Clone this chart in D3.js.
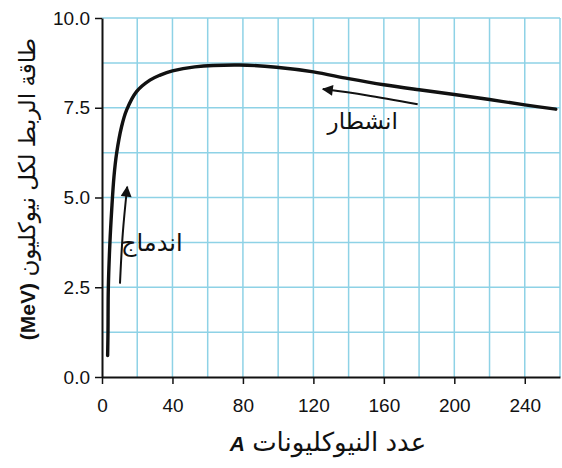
<!DOCTYPE html>
<html><head><meta charset="utf-8">
<script src="https://cdn.jsdelivr.net/npm/d3@7/dist/d3.min.js"></script>
<style>
html,body{margin:0;padding:0;background:#fff;}
svg{display:block;}
</style></head>
<body>
<svg id="chart" width="562" height="468"></svg>
<script>
// Data
const massNumber = [3.2, 3.4, 3.6, 4.5, 5.5, 6.8, 8.3, 11.1, 14, 19.6, 27.2, 33, 40, 52.7, 78, 99, 120, 140, 160, 180, 200, 220, 240, 257.6];
const bindingEnergy = [0.6, 1.25, 2.5, 3.75, 4.65, 5.58, 6.23, 6.97, 7.44, 7.95, 8.27, 8.41, 8.53, 8.64, 8.69, 8.63, 8.5, 8.31, 8.14, 8.0, 7.87, 7.73, 7.58, 7.46];
const xTicks = [0, 40, 80, 120, 160, 200, 240];
const yTicks = [0, 2.5, 5.0, 7.5, 10.0];
const xGrid = [20, 40, 60, 80, 100, 120, 140, 160, 180, 200, 220, 240, 260];
const yGrid = [1.25, 2.5, 3.75, 5, 6.25, 7.5, 8.75, 10];
const fusionArrow = [[10.2, 2.6], [11.8, 4.0], [14.3, 5.3]];
const fissionArrow = [[179.2, 7.6], [150, 7.85], [125.4, 8.02]];
const labels = {
  yArabic: "طاقة الربط لكل نيوكليون",
  yUnit: "(MeV)",
  xArabic: "عدد النيوكليونات",
  xSymbol: "A",
  fusion: "اندماج",
  fission: "انشطار"
};

const svg = d3.select("#chart");
const x = d3.scaleLinear().domain([0, 260]).range([102, 560]);
const y = d3.scaleLinear().domain([0, 10]).range([377, 18]);
const gridColor = "#8ed2e6";
const arabicFont = "'Liberation Sans','DejaVu Sans',sans-serif";

// grid
svg.append("g").selectAll("line.v").data(xGrid).join("line")
  .attr("x1", d => x(d)).attr("x2", d => x(d))
  .attr("y1", y(0)).attr("y2", y(10))
  .attr("stroke", gridColor).attr("stroke-width", 1.5);
svg.append("g").selectAll("line.h").data(yGrid).join("line")
  .attr("x1", x(0)).attr("x2", x(260))
  .attr("y1", d => y(d)).attr("y2", d => y(d))
  .attr("stroke", gridColor).attr("stroke-width", 1.5);

// axes
const xAxis = svg.append("g").attr("transform", `translate(0,${y(0)})`)
  .call(d3.axisBottom(x).tickValues(xTicks).tickFormat(d3.format("d")).tickSize(7).tickPadding(15).tickSizeOuter(0));
const yAxis = svg.append("g").attr("transform", `translate(${x(0)},0)`)
  .call(d3.axisLeft(y).tickValues(yTicks).tickFormat(d3.format(".1f")).tickSize(7).tickPadding(5).tickSizeOuter(0));
[xAxis, yAxis].forEach(g => {
  g.select(".domain").attr("stroke", "#111").attr("stroke-width", 2);
  g.selectAll(".tick line").attr("stroke", "#111").attr("stroke-width", 1.5);
  g.selectAll(".tick text").attr("fill", "#111")
    .style("font-family", "'Liberation Sans',Arial,sans-serif").style("font-size", "19px");
});

// curve
const line = d3.line().x(d => x(d[0])).y(d => y(d[1])).curve(d3.curveCatmullRom.alpha(0.5));
svg.append("path").datum(massNumber.map((a, i) => [a, bindingEnergy[i]]))
  .attr("d", line).attr("fill", "none").attr("stroke", "#111").attr("stroke-width", 3.4)
  .attr("stroke-linecap", "round");

// arrows
const defs = svg.append("defs");
defs.append("marker").attr("id", "ah").attr("viewBox", "0 0 10 10")
  .attr("refX", 9).attr("refY", 5).attr("markerWidth", 7).attr("markerHeight", 5.5)
  .attr("markerUnits", "strokeWidth").attr("orient", "auto")
  .append("path").attr("d", "M0,0 L10,5 L0,10 Z").attr("fill", "#111");
const arrowLine = d3.line().x(d => x(d[0])).y(d => y(d[1])).curve(d3.curveNatural);
[fusionArrow, fissionArrow].forEach(pts => {
  svg.append("path").attr("d", arrowLine(pts)).attr("fill", "none")
    .attr("stroke", "#111").attr("stroke-width", 2).attr("marker-end", "url(#ah)");
});

// annotation labels
svg.append("text").attr("x", x(28.3)).attr("y", y(3.5)).attr("direction", "rtl")
  .attr("text-anchor", "middle").style("font-family", arabicFont).style("font-size", "24px")
  .attr("fill", "#111").text(labels.fusion);
svg.append("text").attr("x", x(148)).attr("y", y(6.92)).attr("direction", "rtl")
  .attr("text-anchor", "middle").style("font-family", arabicFont).style("font-size", "23px")
  .attr("fill", "#111").text(labels.fission);

// axis titles
const xt = svg.append("text").attr("x", 328).attr("y", 451).attr("direction", "rtl")
  .attr("text-anchor", "middle").style("font-family", arabicFont).style("font-size", "26px")
  .attr("fill", "#111");
xt.append("tspan").text(labels.xArabic + " ");
xt.append("tspan").style("font-style", "italic").style("font-weight", "bold")
  .style("font-size", "21px").text(labels.xSymbol);
const yt = svg.append("text").attr("transform", "translate(35,189) rotate(-90)").attr("direction", "rtl")
  .attr("text-anchor", "middle").style("font-family", arabicFont).style("font-size", "23px")
  .attr("fill", "#111");
yt.append("tspan").text(labels.yArabic + " ");
yt.append("tspan").style("font-size", "21px").style("font-weight", "bold").text(labels.yUnit);
</script>
</body></html>
